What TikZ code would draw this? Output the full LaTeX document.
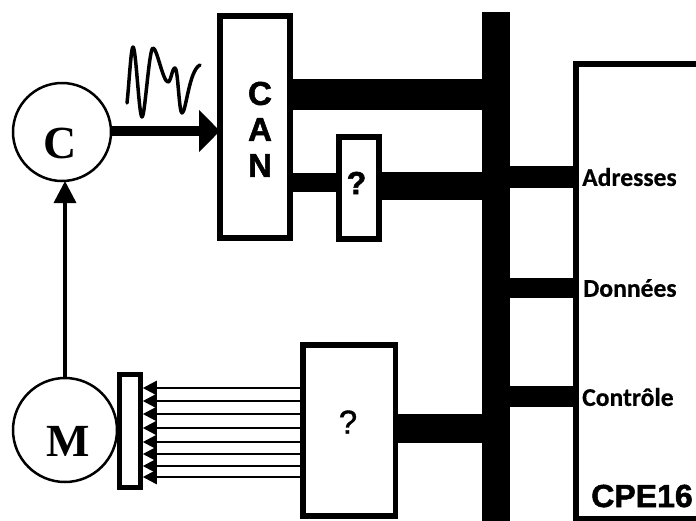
\documentclass[tikz,border=0pt]{standalone}
\usepackage{fontspec}
\setmainfont{Liberation Serif}
\setsansfont{Liberation Sans}
\newfontfamily\heavysans[FakeBold=1.6]{Liberation Sans Bold}
\newfontfamily\medsans[FakeBold=1.2]{Liberation Sans}
\newfontfamily\carlitoheavy[FakeBold=0.5]{Carlito Bold}
\usetikzlibrary{arrows.meta}
\tikzset{
  x=1pt,y=-1pt,
  boxA/.style={draw,line width=5.5pt,fill=white,rectangle,inner sep=0pt,outer sep=0pt},
  busbar/.style={fill=black,rectangle,inner sep=0pt,outer sep=0pt,minimum width=28pt,minimum height=510pt},
  roundel/.style={draw,line width=2.5pt,circle,inner sep=0pt,outer sep=0pt},
  serifL/.style={font=\rmfamily\bfseries\fontsize{46}{46}\selectfont,inner sep=0pt},
  sansB/.style={font=\heavysans\fontsize{33}{33}\selectfont,inner sep=0pt},
  busL/.style={font=\carlitoheavy\fontsize{25.6}{26}\selectfont,inner sep=0pt,anchor=west},
  thin arrow/.style={line width=2.5pt,-{Triangle[length=14pt,width=14pt]}},
}
\begin{document}
\begin{tikzpicture}
\useasboundingbox (0,0) rectangle (696,520);
\clip (0,0) rectangle (696,520);
% blocks
\node[busbar] (bus) at (496,267) {};
\node[boxA,minimum width=124pt,minimum height=454.5pt] (cpe) at (638,291.25) {};
\node[boxA,minimum width=70pt,minimum height=222pt] (can) at (255,127) {};
\node[boxA,minimum width=40pt,minimum height=102pt] (qa) at (359,188) {};
\node[boxA,minimum width=92.5pt,minimum height=171pt] (qb) at (349,430.5) {};
\node[boxA,line width=5pt,outer sep=2.5pt,minimum width=20.5pt,minimum height=113.5pt] (bar) at (130,431) {};
\node[roundel,minimum size=98pt] (c) at (62,132) {};
\node[roundel,minimum size=104pt] (m) at (65,430) {};
% labels
\node[serifL] at (60,143) {C};
\node[serifL] at (68,441) {M};
\node[sansB] at (260,93.5) {C};
\node[sansB] at (260,129.5) {A};
\node[sansB] at (260,165.5) {N};
\node[sansB,font=\heavysans\fontsize{32}{32}\selectfont] at (356.5,183) {?};
\node[font=\medsans\fontsize{33}{33}\selectfont,inner sep=0pt] at (348,422) {?};
\node[busL] at (582,177) {Adresses};
\node[busL] at (583,288) {Données};
\node[busL] at (582,397) {Contrôle};
\node[font=\heavysans\fontsize{32}{32}\selectfont,inner sep=0pt] (cpetxt) at (642,496) {CPE16};
% bus branches
\draw[line width=31pt] (can.east |- 0,94.5) -- (bus.west |- 0,94.5);
\draw[line width=19pt] (can.east |- 0,182.5) -- (qa.west |- 0,182.5);
\draw[line width=28pt] (qa.east |- 0,186) -- (bus.west |- 0,186);
\draw[line width=22pt] (bus.east |- 0,177) -- (cpe.west |- 0,177);
\draw[line width=20pt] (bus.east |- 0,288) -- (cpe.west |- 0,288);
\draw[line width=21pt] (bus.east |- 0,396.5) -- (cpe.west |- 0,396.5);
\draw[line width=29pt] (qb.east |- 0,428.5) -- (bus.west |- 0,428.5);
% signal arrows
\draw[line width=10pt,-{Triangle[length=21pt,width=41pt]}] (c.east |- 0,131) -- (can.west |- 0,131);
\draw[line width=3.5pt,-{Triangle[length=22pt,width=22pt]}] (m.north) -- (m.north |- c.south);
% actuator lines
\foreach \yy in {388,401,414,428,442,454,466,477}
  \draw[thin arrow] (qb.west |- 0,\yy) -- (bar.east |- 0,\yy);
% waveform
\draw[line width=3.5pt,line cap=round,line join=round]
  (127,103) .. controls (129,85) and (131,47) .. (133,47)
  .. controls (136,47) and (139,117) .. (142,117)
  .. controls (145,117) and (149,48) .. (153,48)
  .. controls (157,48) and (163,82) .. (168,82)
  .. controls (171,82) and (172,68) .. (175,68)
  .. controls (178,68) and (179,113) .. (182,113)
  .. controls (186,113) and (189,70) .. (200,65);
\end{tikzpicture}
\end{document}
